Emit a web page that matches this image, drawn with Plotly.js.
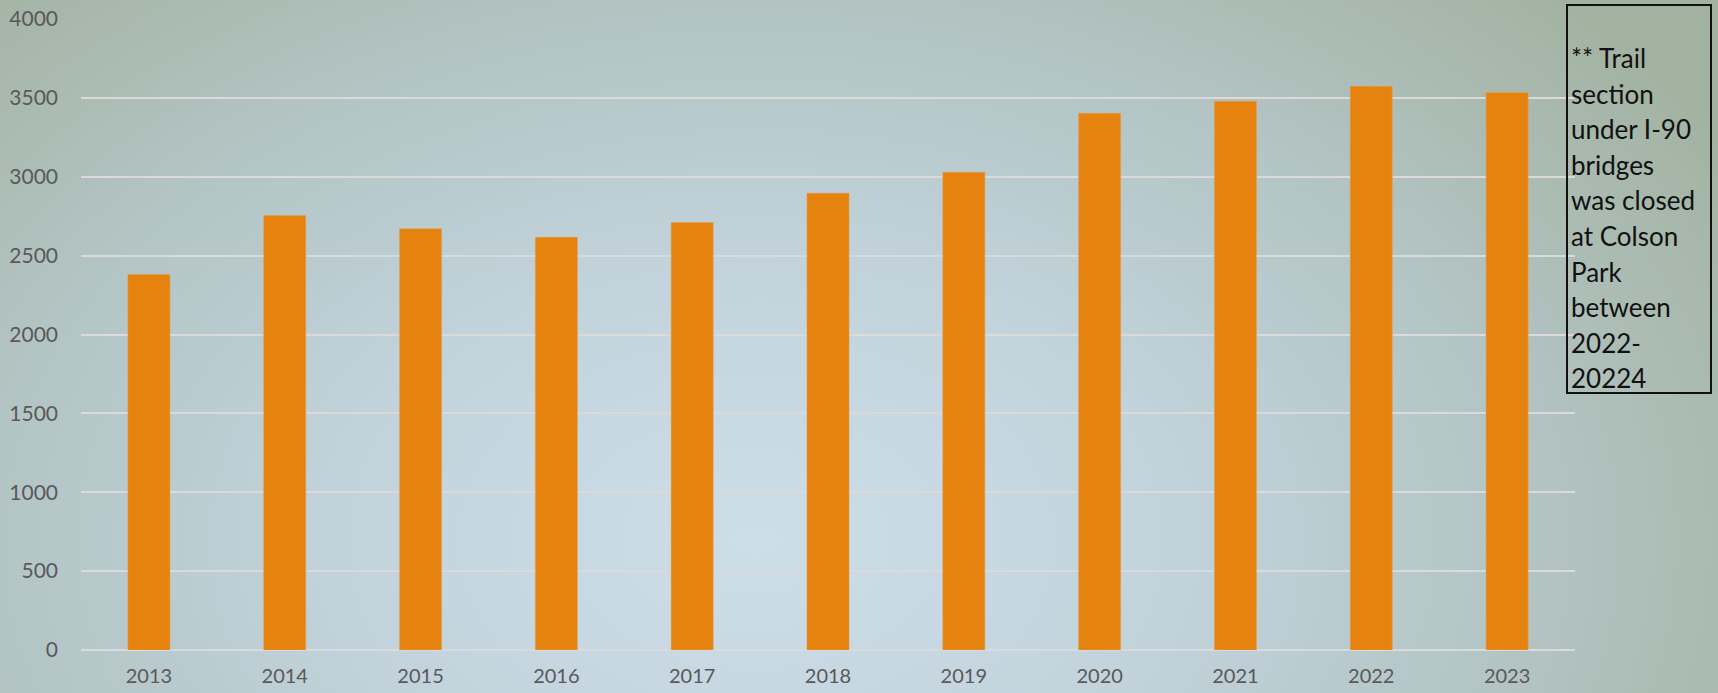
<!DOCTYPE html>
<html>
<head>
<meta charset="utf-8">
<script src="https://cdn.plot.ly/plotly-3.0.1.min.js"></script>
<style>
  html, body { margin: 0; padding: 0; width: 1718px; height: 693px; overflow: hidden; }
  body {
    background: radial-gradient(ellipse 1150px 780px at 44% 78%, #cddee9 0%, #c2d3dc 35%, #b4c5c6 65%, #a2b2a0 100%);
  }
  #chart { width: 1718px; height: 693px; }
</style>
</head>
<body>
<div id="chart"></div>
<script>
const years = ["2013", "2014", "2015", "2016", "2017", "2018", "2019", "2020", "2021", "2022", "2023"];
const counts = [2380, 2754, 2670, 2617, 2710, 2896, 3029, 3403, 3479, 3574, 3534];
const yTicks = [0, 500, 1000, 1500, 2000, 2500, 3000, 3500, 4000];
const noteLines = ["** Trail", "section", "under I-90", "bridges", "was closed", "at Colson", "Park", "between", "2022-", "20224"];

const W = 1718, H = 693;
const M = { l: 81, r: 143, t: 19, b: 43 };
const plotH = H - M.t - M.b;
const plotW = W - M.l - M.r;
const px2paperY = py => (H - M.b - py) / plotH;
const px2paperX = px => (px - M.l) / plotW;

const trace = {
  type: "bar",
  x: years,
  y: counts,
  marker: { color: "#e6830f", line: { color: "#e0a060", width: 0.5 } },
  hoverinfo: "x+y"
};

const noteFont = { family: "Lato, 'Open Sans', sans-serif", size: 26, color: "#111111" };
const noteAnnotations = noteLines.map((line, i) => ({
  xref: "paper", yref: "paper",
  x: px2paperX(1569), y: px2paperY(58 + 35.6 * i),
  xanchor: "left", yanchor: "middle",
  align: "left",
  showarrow: false,
  text: line,
  font: noteFont
}));

const layout = {
  width: W,
  height: H,
  margin: M,
  paper_bgcolor: "rgba(0,0,0,0)",
  plot_bgcolor: "rgba(0,0,0,0)",
  bargap: 0.69,
  showlegend: false,
  font: { family: "Lato, 'Open Sans', sans-serif", color: "#595959" },
  xaxis: {
    type: "category",
    showgrid: false,
    showline: false,
    zeroline: false,
    ticks: "",
    tickfont: { size: 20, color: "#595959" },
    ticklabelstandoff: 12
  },
  yaxis: {
    range: [0, 4000],
    tickvals: yTicks,
    ticktext: yTicks.map(String),
    showgrid: true,
    gridcolor: "#dadada",
    gridwidth: 2,
    zeroline: true,
    zerolinecolor: "#dadada",
    zerolinewidth: 2,
    showline: false,
    ticks: "",
    tickfont: { size: 21, color: "#595959" },
    ticklabelstandoff: 22
  },
  shapes: [{
    type: "rect",
    xref: "paper", yref: "paper",
    x0: px2paperX(1567), x1: px2paperX(1711),
    y0: px2paperY(393), y1: px2paperY(5),
    line: { color: "#111111", width: 2 },
    fillcolor: "rgba(0,0,0,0)"
  }],
  annotations: noteAnnotations
};

Plotly.newPlot("chart", [trace], layout, { displayModeBar: false, staticPlot: true });
</script>
</body>
</html>
